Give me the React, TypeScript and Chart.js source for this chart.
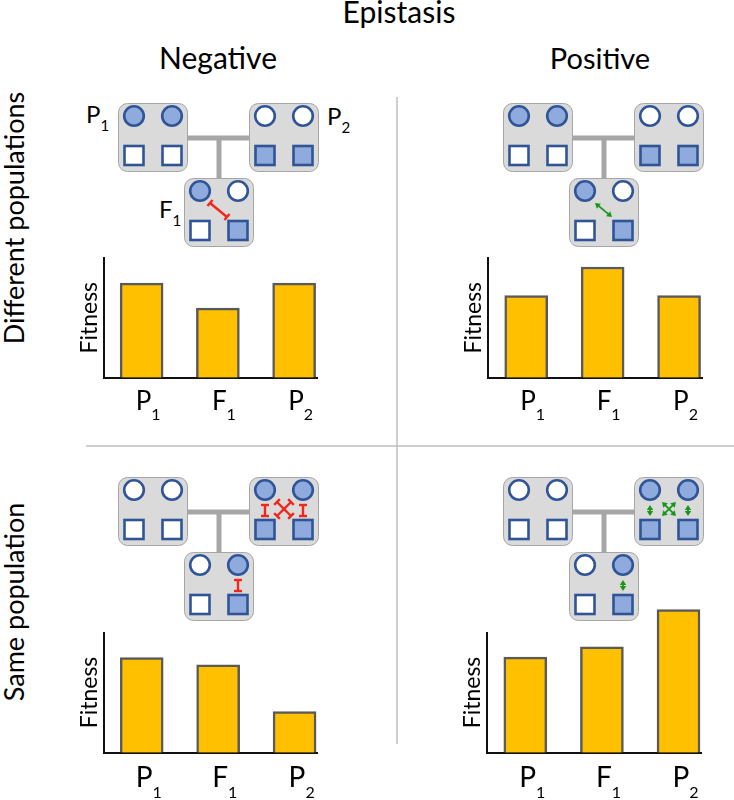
import React, { useEffect, useRef } from 'react';
import { Chart, registerables } from 'chart.js';

Chart.register(...registerables);

// ---- data ----
const categories = ['P', 'F', 'P'];
const subscripts = ['1', '1', '2'];
const negativeDifferent = [79, 58, 79];
const positiveDifferent = [68.5, 92.5, 68.5];
const negativeSame = [79, 73, 34];
const positiveSame = [79.5, 88, 119];

const FONT = 'Lato, "Open Sans", sans-serif';
const BAR_FILL = '#FFC000';
const BAR_EDGE = '#5a5a5a';
const BLUE_EDGE = '#2F5597';
const BLUE_FILL = '#8FAADC';
const BOX_FILL = '#DADADA';
const BOX_EDGE = '#A6A6A6';
const LINK = '#A6A6A6';
const RED = '#F2261B';
const GREEN = '#18961A';

type Rect = { l: number; t: number; r: number; b: number };

const labelPlugin = {
  id: 'subLabels',
  afterDraw(chart: any, _args: any, opts: any) {
    const { ctx, chartArea, scales } = chart;
    const xs = scales.x;
    ctx.save();
    ctx.fillStyle = '#000';
    ctx.textBaseline = 'alphabetic';
    ctx.textAlign = 'left';
    for (let i = 0; i < categories.length; i++) {
      const px = xs.getPixelForValue(i);
      const x0 = px - opts.lead;
      const base = chartArea.bottom + opts.baseline;
      ctx.font = `${opts.size}px ${FONT}`;
      ctx.fillText(categories[i], x0, base);
      const w = ctx.measureText(categories[i]).width;
      ctx.font = `${opts.subSize}px ${FONT}`;
      ctx.fillText(subscripts[i], x0 + w, base + opts.subDrop);
    }
    ctx.translate(chartArea.left - opts.titleGap, (chartArea.top + chartArea.bottom) / 2);
    ctx.rotate(-Math.PI / 2);
    ctx.textAlign = 'center';
    ctx.font = `${opts.titleSize}px ${FONT}`;
    ctx.fillText('Fitness', 0, 0);
    ctx.restore();
  },
};

function BarPanel(props: {
  values: number[];
  canvasRect: Rect;
  area: Rect;
  labelSize: number;
  labelBaseline: number;
  subDrop: number;
}) {
  const ref = useRef<HTMLCanvasElement>(null);
  const { values, canvasRect: cv, area } = props;
  const w = cv.r - cv.l;
  const h = cv.b - cv.t;
  useEffect(() => {
    const canvas = ref.current!;
    const chart = new Chart(canvas, {
      type: 'bar',
      data: {
        datasets: [
          {
            data: values.map((v, i) => ({ x: i, y: v })),
            backgroundColor: BAR_FILL,
            borderColor: BAR_EDGE,
            borderWidth: 2.5,
            barThickness: 43,
            clip: false as any,
          } as any,
        ],
      },
      options: {
        animation: false,
        responsive: false,
        maintainAspectRatio: false,
        devicePixelRatio: 1,
        events: [],
        layout: {
          padding: {
            left: area.l - cv.l,
            top: area.t - cv.t,
            right: cv.r - area.r,
            bottom: cv.b - area.b,
          },
        },
        plugins: {
          legend: { display: false },
          tooltip: { enabled: false },
          subLabels: {
            lead: 6,
            baseline: props.labelBaseline,
            subDrop: props.subDrop,
            size: props.labelSize,
            subSize: 16,
            titleGap: 7,
            titleSize: 23,
          },
        } as any,
        scales: {
          x: {
            type: 'linear',
            offset: false,
            min: -0.5,
            max: 2.3,
            bounds: 'ticks',
            ticks: { display: false },
            grid: { display: false, drawTicks: false, offset: false },
            border: { display: true, color: '#111', width: 2 },
          },
          y: {
            min: 0,
            max: 100,
            ticks: { display: false },
            grid: { display: false, drawTicks: false },
            border: { display: true, color: '#111', width: 2 },
          },
        },
      },
      plugins: [labelPlugin],
    });
    return () => chart.destroy();
  }, []);
  return (
    <canvas
      ref={ref}
      width={w}
      height={h}
      style={{ position: 'absolute', left: cv.l, top: cv.t, width: w, height: h }}
    />
  );
}

// ---- diagram helpers ----
function Genotype({ x, y, c, s }: { x: number; y: number; c: boolean[]; s: boolean[] }) {
  return (
    <g transform={`translate(${x},${y})`}>
      <rect x={0.5} y={0.5} width={69} height={68} rx={9} fill={BOX_FILL} stroke={BOX_EDGE} strokeWidth={1} />
      {[16, 54].map((cx, i) => (
        <circle key={'c' + i} cx={cx} cy={13} r={9.8} fill={c[i] ? BLUE_FILL : '#fff'} stroke={BLUE_EDGE} strokeWidth={2.6} />
      ))}
      {[16, 54].map((cx, i) => (
        <rect key={'s' + i} x={cx - 9.5} y={43} width={19} height={19} fill={s[i] ? BLUE_FILL : '#fff'} stroke={BLUE_EDGE} strokeWidth={2.6} />
      ))}
    </g>
  );
}

function Inhibit({ x1, y1, x2, y2, cap = 8 }: { x1: number; y1: number; x2: number; y2: number; cap?: number }) {
  const dx = x2 - x1;
  const dy = y2 - y1;
  const len = Math.hypot(dx, dy);
  const px = (-dy / len) * (cap / 2);
  const py = (dx / len) * (cap / 2);
  return (
    <g stroke={RED} strokeWidth={2.4} strokeLinecap="butt">
      <line x1={x1} y1={y1} x2={x2} y2={y2} />
      <line x1={x1 - px} y1={y1 - py} x2={x1 + px} y2={y1 + py} />
      <line x1={x2 - px} y1={y2 - py} x2={x2 + px} y2={y2 + py} />
    </g>
  );
}

function DoubleArrow({ x1, y1, x2, y2 }: { x1: number; y1: number; x2: number; y2: number }) {
  const dx = x2 - x1;
  const dy = y2 - y1;
  const len = Math.hypot(dx, dy);
  const ux = dx / len;
  const uy = dy / len;
  const hl = 5;
  const hw = 3.2;
  const head = (tx: number, ty: number, dirx: number, diry: number) => {
    const bx = tx - dirx * hl;
    const by = ty - diry * hl;
    return `${tx},${ty} ${bx - diry * hw},${by + dirx * hw} ${bx + diry * hw},${by - dirx * hw}`;
  };
  return (
    <g stroke={GREEN} fill={GREEN}>
      <line x1={x1 + ux * 3} y1={y1 + uy * 3} x2={x2 - ux * 3} y2={y2 - uy * 3} strokeWidth={1.8} />
      <polygon points={head(x1, y1, -ux, -uy)} stroke="none" />
      <polygon points={head(x2, y2, ux, uy)} stroke="none" />
    </g>
  );
}

function Cross({ ox, oy, kind, mode }: { ox: number; oy: number; kind: 'neg' | 'pos'; mode: 'diag' | 'full' | 'vert2' }) {
  const M = kind === 'neg' ? Inhibit : DoubleArrow;
  if (mode === 'diag') {
    return <g transform={`translate(${ox},${oy})`}><M x1={26} y1={25} x2={43} y2={39} /></g>;
  }
  if (mode === 'vert2') {
    return <g transform={`translate(${ox},${oy})`}><M x1={54} y1={28} x2={54} y2={39} /></g>;
  }
  return (
    <g transform={`translate(${ox},${oy})`}>
      <M x1={16} y1={28} x2={16} y2={39} />
      <M x1={54} y1={28} x2={54} y2={39} />
      <M x1={28} y1={25} x2={42} y2={39} />
      <M x1={42} y1={25} x2={28} y2={39} />
    </g>
  );
}

function Pedigree({ x, y, top }: { x: number; y: number; top: boolean }) {
  const p2x = x + 131;
  const f1x = x + 66;
  const f1y = y + 75;
  return (
    <g>
      <line x1={x + 69} y1={y + 35} x2={p2x + 1} y2={y + 35} stroke={LINK} strokeWidth={5} />
      <line x1={x + 101} y1={y + 35} x2={x + 101} y2={f1y + 1} stroke={LINK} strokeWidth={5} />
      {top ? (
        <>
          <Genotype x={x} y={y} c={[true, true]} s={[false, false]} />
          <Genotype x={p2x} y={y} c={[false, false]} s={[true, true]} />
          <Genotype x={f1x} y={f1y} c={[true, false]} s={[false, true]} />
        </>
      ) : (
        <>
          <Genotype x={x} y={y} c={[false, false]} s={[false, false]} />
          <Genotype x={p2x} y={y} c={[true, true]} s={[true, true]} />
          <Genotype x={f1x} y={f1y} c={[false, true]} s={[false, true]} />
        </>
      )}
    </g>
  );
}

function Sub({ x, y, main, sub, size = 24, subSize = 15, drop = 8 }: any) {
  return (
    <text x={x} y={y} fontFamily={FONT} fontSize={size} fill="#000">
      {main}
      <tspan fontSize={subSize} dy={drop}>{sub}</tspan>
    </text>
  );
}

export default function App() {
  return (
    <div style={{ position: 'absolute', left: 0, top: 0, width: 734, height: 800, background: '#fff', overflow: 'hidden' }}>
      <svg width={734} height={800} style={{ position: 'absolute', left: 0, top: 0 }}>
        <text x={399} y={23} textAnchor="middle" fontFamily={FONT} fontSize={30}>Epistasis</text>
        <text x={218} y={69} textAnchor="middle" fontFamily={FONT} fontSize={30}>Negative</text>
        <text x={600} y={69} textAnchor="middle" fontFamily={FONT} fontSize={29}>Positive</text>
        <text transform="translate(24,218) rotate(-90)" textAnchor="middle" fontFamily={FONT} fontSize={27}>Different populations</text>
        <text transform="translate(24,602) rotate(-90)" textAnchor="middle" fontFamily={FONT} fontSize={27}>Same population</text>
        <line x1={397} y1={97} x2={397} y2={744} stroke="#BFBFBF" strokeWidth={1.5} />
        <line x1={86} y1={446} x2={734} y2={446} stroke="#BFBFBF" strokeWidth={1.5} />

        <Pedigree x={118} y={103} top={true} />
        <Cross ox={184} oy={178} kind="neg" mode="diag" />
        <Pedigree x={503} y={103} top={true} />
        <Cross ox={569} oy={178} kind="pos" mode="diag" />
        <Pedigree x={118} y={477} top={false} />
        <Cross ox={249} oy={477} kind="neg" mode="full" />
        <Cross ox={184} oy={552} kind="neg" mode="vert2" />
        <Pedigree x={503} y={477} top={false} />
        <Cross ox={634} oy={477} kind="pos" mode="full" />
        <Cross ox={569} oy={552} kind="pos" mode="vert2" />

        <Sub x={86} y={123} main="P" sub="1" />
        <Sub x={327} y={125} main="P" sub="2" />
        <Sub x={159} y={218} main="F" sub="1" />
      </svg>
      <BarPanel values={negativeDifferent} canvasRect={{ l: 40, t: 230, r: 395, b: 440 }} area={{ l: 103.5, t: 258, r: 317, b: 377.5 }} labelSize={26} labelBaseline={32.5} subDrop={10} />
      <BarPanel values={positiveDifferent} canvasRect={{ l: 420, t: 230, r: 734, b: 440 }} area={{ l: 488, t: 258, r: 702, b: 377.5 }} labelSize={26} labelBaseline={32.5} subDrop={10} />
      <BarPanel values={negativeSame} canvasRect={{ l: 40, t: 595, r: 395, b: 800 }} area={{ l: 103.5, t: 632.5, r: 317.5, b: 752.5 }} labelSize={28} labelBaseline={34.5} subDrop={11} />
      <BarPanel values={positiveSame} canvasRect={{ l: 420, t: 595, r: 734, b: 800 }} area={{ l: 487, t: 632.5, r: 701.5, b: 752.5 }} labelSize={28} labelBaseline={34.5} subDrop={11} />
    </div>
  );
}
